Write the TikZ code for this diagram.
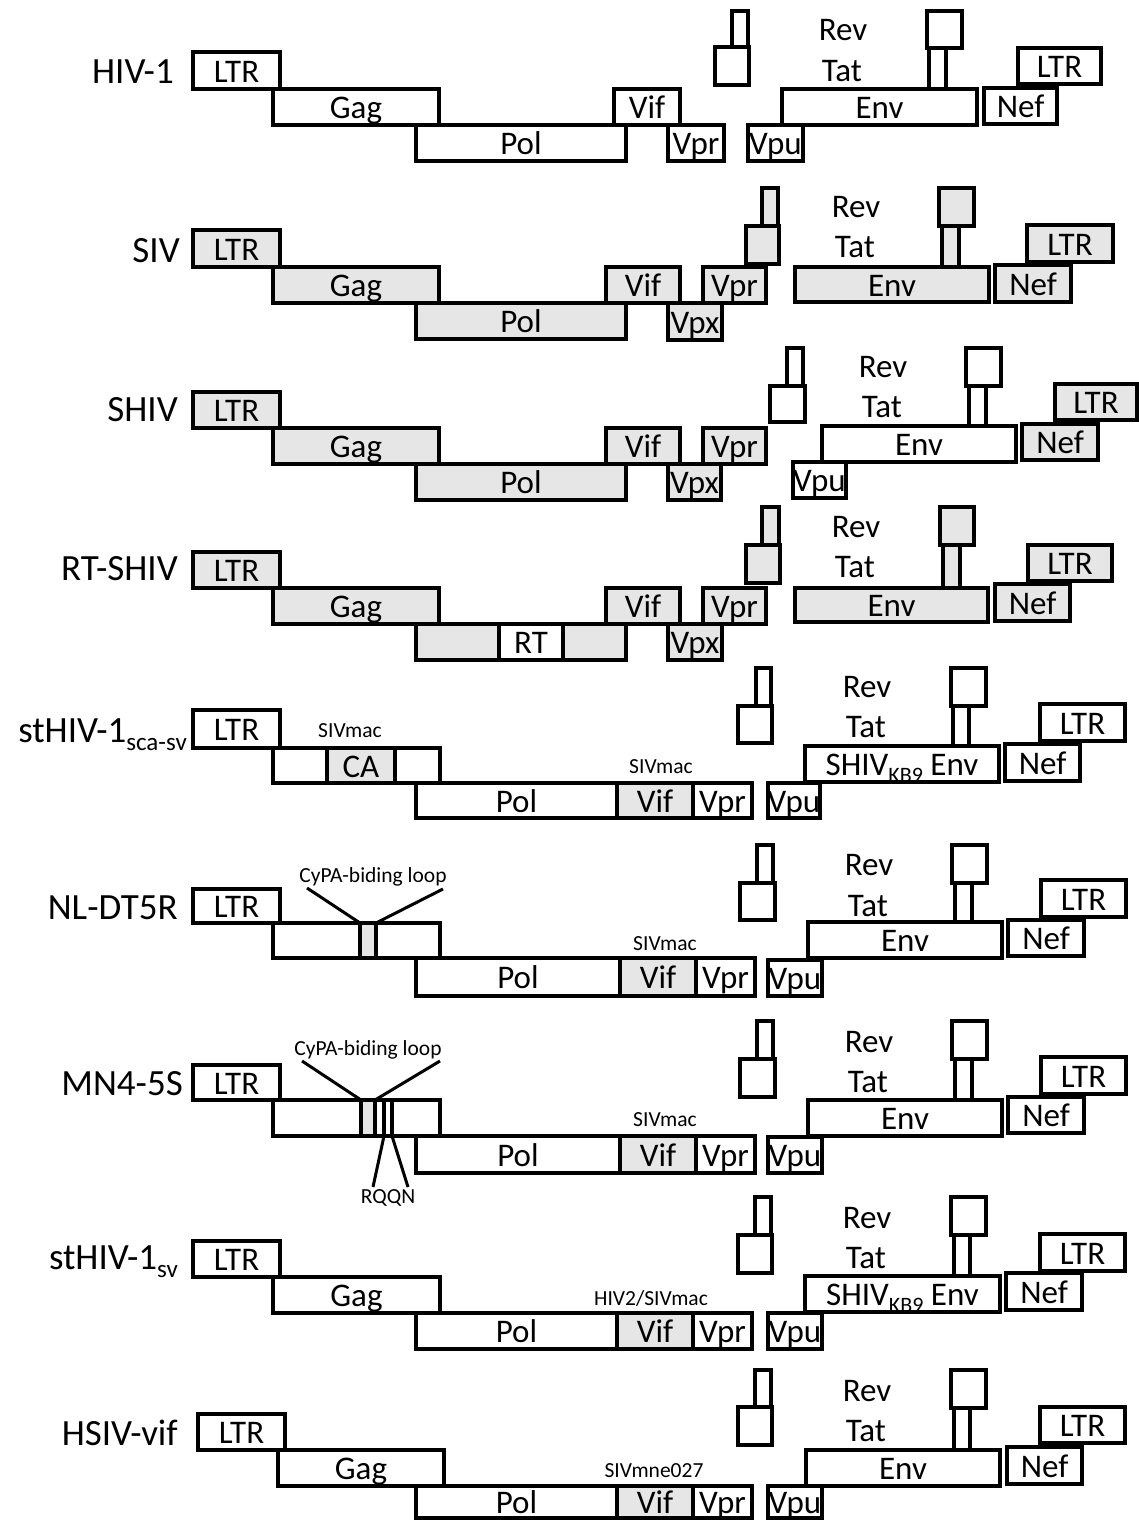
\documentclass[tikz,border=0pt]{standalone}
\usepackage{fontspec}
\setmainfont{Carlito}
\definecolor{lgray}{RGB}{230,230,230}
\newcommand{\gbx}[7]{%
  \pgfmathsetmacro{\gbxW}{#4-#2}%
  \pgfmathsetmacro{\gbxH}{#5-#3}%
  \pgfmathsetmacro{\gbxX}{(#2+#4)/2}%
  \pgfmathsetmacro{\gbxY}{(#3+#5)/2}%
  \node[#6, minimum width=\gbxW pt, minimum height=\gbxH pt] (#1) at (\gbxX,\gbxY) {\makebox[0pt]{#7}};}
\newcommand{\kbsub}{\raisebox{-7pt}{\fontsize{22}{22}\selectfont KB9}}
\tikzset{
 box/.style={draw=black, line width=4pt, fill=white, inner sep=0pt, outer sep=0pt,
   font=\fontsize{33}{35}\selectfont, text height=23pt, text depth=0pt},
 gbox/.style={box, fill=lgray},
 thinbox/.style={box, line width=3.3pt},
 lab/.style={inner sep=0pt, font=\fontsize{33}{35}\selectfont},
 rowlab/.style={inner sep=0pt, anchor=base east, font=\fontsize{37}{40}\selectfont},
 small/.style={inner sep=0pt, font=\fontsize{21.5}{23}\selectfont},
 pointer/.style={line width=3pt}
}
\begin{document}
\begin{tikzpicture}[x=1pt,y=-1pt]
\fill[white] (0,0) rectangle (1139,1520);
\useasboundingbox (0,0) rectangle (1139,1520);

% ---------- Row 1: HIV-1 ----------
\node[rowlab] (a-name) at (174,84) {HIV-1};
\gbx{a-ltr}{193}{52}{280}{89}{box}{LTR}
\gbx{a-gag}{273}{89}{439}{125}{box}{Gag}
\gbx{a-pol}{416}{125}{626}{161}{box}{Pol}
\gbx{a-vif}{614}{89}{680}{125}{box}{Vif}
\gbx{a-vpr}{668}{125}{724}{161}{box}{Vpr}
\gbx{a-tat1}{732}{11}{748}{47}{box}{}
\gbx{a-rev1}{715}{47}{749}{85}{box}{}
\gbx{a-rev2}{927}{11}{962}{48}{box}{}
\gbx{a-tat2}{929}{48}{946}{89}{box}{}
\gbx{a-env}{782}{89}{977}{125}{box}{Env}
\gbx{a-vpu}{748}{125}{803}{161}{box}{Vpu}
\gbx{a-nef}{984}{88}{1057}{124}{box}{Nef}
\gbx{a-ltr2}{1018}{48}{1101}{84}{box}{LTR}
\node[lab] (a-revl) at (843,30) {Rev};
\node[lab] (a-tatl) at (842,71) {Tat};

% ---------- Row 2: SIV ----------
\node[rowlab] (b-name) at (180,262) {SIV};
\gbx{b-ltr}{193}{230}{280}{267}{gbox}{LTR}
\gbx{b-gag}{273}{267}{439}{303}{gbox}{Gag}
\gbx{b-pol}{416}{303}{626}{339}{gbox}{Pol}
\gbx{b-vif}{606}{267}{680}{303}{gbox}{Vif}
\gbx{b-vpr}{703}{267}{766}{303}{gbox}{Vpr}
\gbx{b-vpx}{668}{303}{722}{340}{gbox}{Vpx}
\gbx{b-tat1}{762}{188}{778}{226}{gbox}{}
\gbx{b-rev1}{746}{226}{779}{264}{gbox}{}
\gbx{b-rev2}{939}{188}{974}{226}{gbox}{}
\gbx{b-tat2}{942}{226}{959}{267}{gbox}{}
\gbx{b-env}{795}{267}{989}{302}{gbox}{Env}
\gbx{b-nef}{995}{265}{1071}{302}{gbox}{Nef}
\gbx{b-ltr2}{1027}{225}{1113}{262}{gbox}{LTR}
\node[lab] (b-revl) at (856,207) {Rev};
\node[lab] (b-tatl) at (855,247) {Tat};

% ---------- Row 3: SHIV ----------
\node[rowlab] (c-name) at (178,421) {SHIV};
\gbx{c-ltr}{193}{392}{280}{428}{gbox}{LTR}
\gbx{c-gag}{273}{428}{439}{464}{gbox}{Gag}
\gbx{c-pol}{416}{464}{626}{500}{gbox}{Pol}
\gbx{c-vif}{606}{428}{680}{464}{gbox}{Vif}
\gbx{c-vpr}{703}{428}{766}{464}{gbox}{Vpr}
\gbx{c-vpx}{668}{464}{721}{500}{gbox}{Vpx}
\gbx{c-tat1}{787}{348}{803}{386}{box}{}
\gbx{c-rev1}{770}{386}{805}{422}{box}{}
\gbx{c-rev2}{966}{348}{1001}{386}{box}{}
\gbx{c-tat2}{969}{386}{986}{426}{box}{}
\gbx{c-env}{822}{426}{1016}{462}{box}{Env}
\gbx{c-vpu}{793}{462}{846}{498}{box}{Vpu}
\gbx{c-nef}{1022}{424}{1098}{460}{gbox}{Nef}
\gbx{c-ltr2}{1055}{384}{1137}{420}{gbox}{LTR}
\node[lab] (c-revl) at (883,367) {Rev};
\node[lab] (c-tatl) at (882,407) {Tat};

% ---------- Row 4: RT-SHIV ----------
\node[rowlab] (d-name) at (178,580) {RT-SHIV};
\gbx{d-ltr}{193}{552}{280}{588}{gbox}{LTR}
\gbx{d-gag}{273}{588}{439}{624}{gbox}{Gag}
\gbx{d-pol}{416}{624}{626}{660}{gbox}{}
\gbx{d-rt}{499}{624}{563}{660}{box}{RT}
\gbx{d-vif}{606}{588}{680}{624}{gbox}{Vif}
\gbx{d-vpr}{703}{588}{766}{624}{gbox}{Vpr}
\gbx{d-vpx}{668}{624}{722}{660}{gbox}{Vpx}
\gbx{d-tat1}{762}{507}{779}{545}{gbox}{}
\gbx{d-rev1}{746}{545}{780}{583}{gbox}{}
\gbx{d-rev2}{940}{507}{974}{545}{gbox}{}
\gbx{d-tat2}{943}{545}{960}{588}{gbox}{}
\gbx{d-env}{795}{588}{988}{622}{gbox}{Env}
\gbx{d-nef}{995}{584}{1070}{621}{gbox}{Nef}
\gbx{d-ltr2}{1028}{545}{1112}{581}{gbox}{LTR}
\node[lab] (d-revl) at (856,527) {Rev};
\node[lab] (d-tatl) at (855,567) {Tat};

% ---------- Row 5: stHIV-1 sca-sv ----------
\node[rowlab] (e-name) at (187,742) {stHIV-1\raisebox{-8pt}{\fontsize{25}{25}\selectfont sca-sv}};
\gbx{e-ltr}{193}{710}{280}{748}{box}{LTR}
\gbx{e-gag}{273}{748}{440}{783}{box}{}
\gbx{e-ca}{327}{748}{395}{783}{gbox}{CA}
\node[small] (e-s1) at (350,731) {SIVmac};
\gbx{e-pol}{416}{783}{617}{818}{box}{Pol}
\gbx{e-vif}{617}{783}{693}{818}{gbox}{Vif}
\gbx{e-vpr}{693}{783}{752}{818}{box}{Vpr}
\node[small] (e-s2) at (661,767) {SIVmac};
\gbx{e-tat1}{756}{668}{771}{706}{box}{}
\gbx{e-rev1}{738}{706}{772}{743}{box}{}
\gbx{e-rev2}{951}{668}{986}{706}{box}{}
\gbx{e-tat2}{953}{706}{969}{746}{box}{}
\gbx{e-env}{805}{746}{999}{782}{box}{SHIV\kbsub\ Env}
\gbx{e-vpu}{768}{783}{820}{818}{box}{Vpu}
\gbx{e-nef}{1005}{744}{1080}{781}{box}{Nef}
\gbx{e-ltr2}{1040}{704}{1125}{741}{box}{LTR}
\node[lab] (e-revl) at (867,687) {Rev};
\node[lab] (e-tatl) at (866,727) {Tat};

% ---------- Row 6: NL-DT5R ----------
\node[rowlab] (f-name) at (178,919) {NL-DT5R};
\gbx{f-ltr}{193}{889}{280}{923}{box}{LTR}
\gbx{f-gag}{273}{923}{440}{958}{box}{}
\gbx{f-loop}{360}{923}{376}{958}{gbox}{}
\node[small] (f-cypa) at (373,877) {CyPA-biding loop};
\coordinate (f-p1) at (307,888);
\coordinate (f-p2) at (443,889);
\draw[pointer] (f-p1) -- (f-loop.north west);
\draw[pointer] (f-p2) -- (f-loop.north east);
\gbx{f-pol}{416}{958}{620}{996}{box}{Pol}
\gbx{f-vif}{620}{958}{696}{996}{gbox}{Vif}
\gbx{f-vpr}{696}{958}{755}{996}{box}{Vpr}
\node[small] (f-s) at (665,944) {SIVmac};
\gbx{f-tat1}{757}{845}{773}{883}{box}{}
\gbx{f-rev1}{740}{883}{775}{920}{box}{}
\gbx{f-rev2}{952}{845}{987}{883}{box}{}
\gbx{f-tat2}{955}{883}{972}{922}{box}{}
\gbx{f-env}{808}{922}{1002}{958}{box}{Env}
\gbx{f-vpu}{768}{960}{822}{996}{box}{Vpu}
\gbx{f-nef}{1008}{920}{1084}{956}{box}{Nef}
\gbx{f-ltr2}{1041}{880}{1126}{917}{box}{LTR}
\node[lab] (f-revl) at (869,865) {Rev};
\node[lab] (f-tatl) at (868,906) {Tat};

% ---------- Row 7: MN4-5S ----------
\node[rowlab] (g-name) at (183,1095) {MN4-5S};
\gbx{g-ltr}{193}{1065}{280}{1100}{box}{LTR}
\gbx{g-gag}{273}{1100}{440}{1136}{box}{}
\gbx{g-loop}{361}{1100}{375}{1136}{gbox}{}
\gbx{g-m1}{375}{1100}{384}{1136}{thinbox}{}
\gbx{g-m2}{384}{1100}{392}{1136}{thinbox}{}
\node[small] (g-cypa) at (368,1050) {CyPA-biding loop};
\coordinate (g-p1) at (302,1061);
\coordinate (g-p2) at (440,1061);
\draw[pointer] (g-p1) -- (g-loop.north west);
\draw[pointer] (g-p2) -- (g-loop.north east);
\node[small] (g-rqqn) at (388,1198) {RQQN};
\coordinate (g-q1) at (373,1187);
\coordinate (g-q2) at (408,1187);
\draw[pointer] (g-m1.south east) -- (g-q1);
\draw[pointer] (g-m2.south east) -- (g-q2);
\gbx{g-pol}{416}{1136}{620}{1173}{box}{Pol}
\gbx{g-vif}{620}{1136}{696}{1173}{gbox}{Vif}
\gbx{g-vpr}{696}{1136}{755}{1173}{box}{Vpr}
\node[small] (g-s) at (665,1120) {SIVmac};
\gbx{g-tat1}{757}{1021}{773}{1059}{box}{}
\gbx{g-rev1}{740}{1059}{775}{1097}{box}{}
\gbx{g-rev2}{952}{1021}{987}{1059}{box}{}
\gbx{g-tat2}{955}{1059}{972}{1100}{box}{}
\gbx{g-env}{808}{1100}{1002}{1136}{box}{Env}
\gbx{g-vpu}{768}{1137}{822}{1173}{box}{Vpu}
\gbx{g-nef}{1008}{1097}{1084}{1133}{box}{Nef}
\gbx{g-ltr2}{1041}{1057}{1126}{1094}{box}{LTR}
\node[lab] (g-revl) at (869,1042) {Rev};
\node[lab] (g-tatl) at (868,1082) {Tat};

% ---------- Row 8: stHIV-1 sv ----------
\node[rowlab] (h-name) at (178,1269) {stHIV-1\raisebox{-8pt}{\fontsize{25}{25}\selectfont sv}};
\gbx{h-ltr}{193}{1241}{280}{1277}{box}{LTR}
\gbx{h-gag}{273}{1277}{440}{1313}{box}{Gag}
\gbx{h-pol}{416}{1313}{617}{1349}{box}{Pol}
\gbx{h-vif}{617}{1313}{693}{1349}{gbox}{Vif}
\gbx{h-vpr}{693}{1313}{752}{1349}{box}{Vpr}
\node[small] (h-s) at (651,1298) {HIV2/SIVmac};
\gbx{h-tat1}{755}{1197}{771}{1235}{box}{}
\gbx{h-rev1}{738}{1235}{772}{1273}{box}{}
\gbx{h-rev2}{951}{1197}{986}{1235}{box}{}
\gbx{h-tat2}{954}{1235}{970}{1276}{box}{}
\gbx{h-env}{805}{1276}{1000}{1312}{box}{SHIV\kbsub\ Env}
\gbx{h-vpu}{768}{1313}{822}{1349}{box}{Vpu}
\gbx{h-nef}{1006}{1273}{1082}{1310}{box}{Nef}
\gbx{h-ltr2}{1040}{1234}{1125}{1271}{box}{LTR}
\node[lab] (h-revl) at (867,1218) {Rev};
\node[lab] (h-tatl) at (866,1258) {Tat};

% ---------- Row 9: HSIV-vif ----------
\node[rowlab] (i-name) at (178,1445) {HSIV-vif};
\gbx{i-ltr}{198}{1414}{285}{1450}{box}{LTR}
\gbx{i-gag}{278}{1450}{444}{1486}{box}{Gag}
\gbx{i-pol}{416}{1486}{617}{1518}{box}{Pol}
\gbx{i-vif}{617}{1486}{693}{1518}{gbox}{Vif}
\gbx{i-vpr}{693}{1486}{752}{1518}{box}{Vpr}
\node[small] (i-s) at (654,1471) {SIVmne027};
\gbx{i-tat1}{755}{1370}{771}{1407}{box}{}
\gbx{i-rev1}{738}{1407}{772}{1445}{box}{}
\gbx{i-rev2}{951}{1370}{986}{1408}{box}{}
\gbx{i-tat2}{954}{1408}{970}{1450}{box}{}
\gbx{i-env}{806}{1450}{1000}{1486}{box}{Env}
\gbx{i-vpu}{768}{1486}{822}{1518}{box}{Vpu}
\gbx{i-nef}{1007}{1447}{1082}{1484}{box}{Nef}
\gbx{i-ltr2}{1040}{1407}{1125}{1443}{box}{LTR}
\node[lab] (i-revl) at (867,1391) {Rev};
\node[lab] (i-tatl) at (866,1431) {Tat};
\end{tikzpicture}
\end{document}
